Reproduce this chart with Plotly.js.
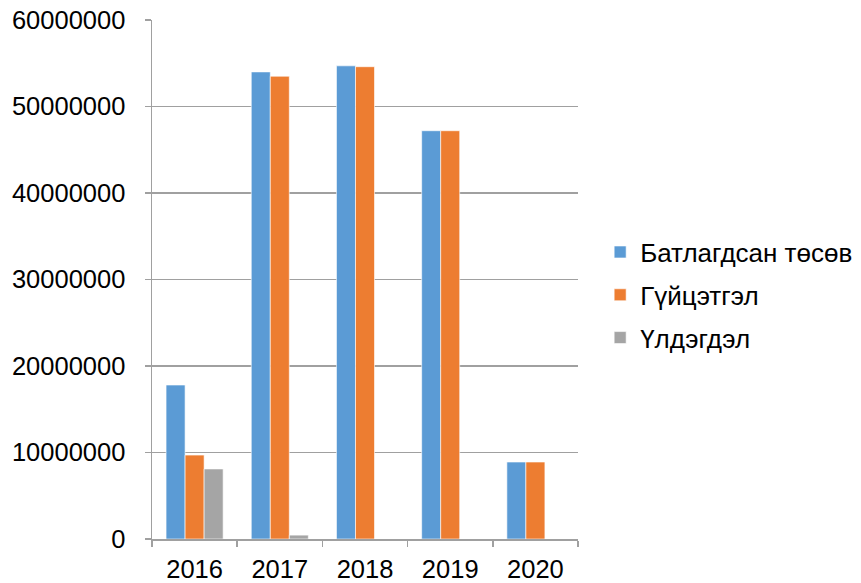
<!DOCTYPE html>
<html>
<head>
<meta charset="utf-8">
<script src="https://cdn.plot.ly/plotly-3.0.1.min.js"></script>
<style>html,body{margin:0;padding:0;background:#fff;}#chart{width:861px;height:583px;}</style>
</head>
<body>
<div id="chart"></div>
<script>
const years = ["2016", "2017", "2018", "2019", "2020"];
const approved = [17800000, 54000000, 54700000, 47200000, 8900000];
const executed = [9700000, 53500000, 54600000, 47200000, 8900000];
const remaining = [8100000, 450000, 0, 0, 0];
const seriesNames = ["Батлагдсан төсөв", "Гүйцэтгэл", "Үлдэгдэл"];
const colors = ["#5B9BD5", "#ED7D31", "#A5A5A5"];
const seriesValues = [approved, executed, remaining];

const traces = seriesValues.map((vals, i) => ({
  type: "bar",
  x: years,
  y: vals,
  name: seriesNames[i],
  legendgroup: "g" + i,
  marker: {color: colors[i], line: {color: "rgba(255,255,255,0.6)", width: 1}},
  hoverinfo: "x+y+name"
}));

const layout = {
  width: 861, height: 583,
  margin: {l: 152, r: 283, t: 20, b: 44, autoexpand: false},
  paper_bgcolor: "#fff", plot_bgcolor: "#fff",
  font: {family: "Liberation Sans, Arial, sans-serif", size: 24, color: "#000"},
  barmode: "group",
  bargap: 0.33,
  bargroupgap: 0,
  showlegend: true,
  legend: {
    x: 1.052, xanchor: "left", y: 0.47, yanchor: "middle",
    font: {size: 26, color: "#000"},
    traceorder: "grouped", tracegroupgap: 6,
    itemwidth: 30
  },
  xaxis: {
    type: "category",
    showgrid: false,
    showline: true, linecolor: "#a0a0a0", linewidth: 1.5,
    ticks: "outside", tickson: "boundaries", ticklen: 6, tickcolor: "#a0a0a0", tickwidth: 1.5,
    ticklabelstandoff: 7,
    tickfont: {size: 25.5, color: "#000"},
    fixedrange: true
  },
  yaxis: {
    range: [0, 60000000],
    dtick: 10000000,
    tickformat: "d",
    showgrid: true, gridcolor: "#a0a0a0", gridwidth: 1.5,
    zeroline: false,
    showline: true, linecolor: "#a0a0a0", linewidth: 1.5,
    ticks: "outside", ticklen: 6, tickcolor: "#a0a0a0", tickwidth: 1.5,
    ticklabelstandoff: 14,
    tickfont: {size: 25.5, color: "#000"},
    fixedrange: true
  }
};

Plotly.newPlot("chart", traces, layout, {displayModeBar: false, staticPlot: true});
</script>
</body>
</html>
